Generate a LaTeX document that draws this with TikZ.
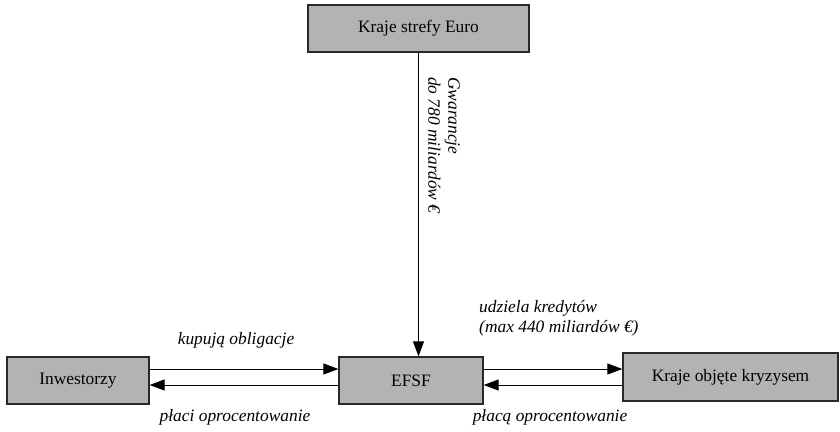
\documentclass[tikz,border=0pt]{standalone}
\usepackage{fontspec}
\setmainfont{LiberationSerif}[Extension=.ttf, UprightFont=*-Regular, ItalicFont=*-Italic, BoldFont=*-Bold, BoldItalicFont=*-BoldItalic]
\usetikzlibrary{arrows.meta}
\definecolor{boxgray}{RGB}{179,179,179}
\definecolor{boxline}{RGB}{40,40,40}
\tikzset{
  box/.style={draw=boxline, line width=1.3pt, fill=boxgray, inner sep=0pt,
    minimum height=47pt, font=\fontsize{17.4}{20}\selectfont},
  arr/.style={line width=1pt, -{Triangle[length=15pt,width=11pt]}},
  lbl/.style={inner sep=0pt, font=\fontsize{17.4}{20}\selectfont\itshape}
}
\begin{document}
\begin{tikzpicture}[x=1pt,y=-1pt]
\useasboundingbox (0,0) rectangle (840,431);
\node[box, minimum width=221pt] (top) at (418.5,28.5) {Kraje strefy Euro};
\node[box, minimum width=142pt] (inv) at (78,380.5) {Inwestorzy};
\node[box, minimum width=144pt] (efsf) at (411,380.5) {EFSF};
\node[box, minimum width=215pt, minimum height=48pt] (kraje) at (730.5,377) {Kraje objęte kryzysem};

\draw[arr] (top.south) -- (top.south |- efsf.north);

\draw[arr] ([yshift=11.5pt]inv.east) -- ([yshift=11.5pt]inv.east -| efsf.west);
\draw[arr] ([yshift=-4.5pt]efsf.west) -- ([yshift=-4.5pt]efsf.west -| inv.east);
\draw[arr] ([yshift=11.5pt]efsf.east) -- ([yshift=11.5pt]efsf.east -| kraje.west);
\draw[arr] ([yshift=-4.5pt]kraje.west |- efsf.center) -- ([yshift=-4.5pt]efsf.east);

\node[lbl, rotate=-90, anchor=west, align=left] (gw) at (444,77) {Gwarancje\\do 780 miliardów €};
\node[lbl] (kup) at (236,340) {kupują obligacje};
\node[lbl] (pl1) at (235,417) {płaci oprocentowanie};
\node[lbl] (pl2) at (550,417) {płacą oprocentowanie};
\node[lbl, anchor=west, align=left] (udz) at (479,318.5) {udziela kredytów\\(max 440 miliardów €)};
\end{tikzpicture}
\end{document}
